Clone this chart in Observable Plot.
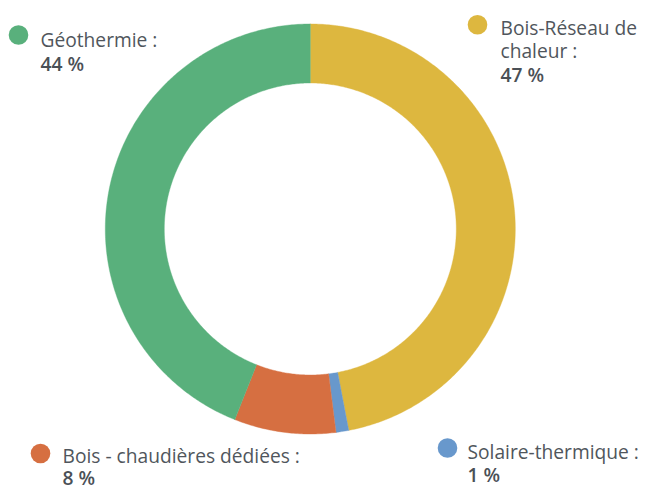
<!DOCTYPE html>
<html>
<head>
<meta charset="utf-8">
<script src="https://cdn.jsdelivr.net/npm/d3@7"></script>
<script src="https://cdn.jsdelivr.net/npm/@observablehq/plot@0.6"></script>
<style>
  html, body { margin: 0; padding: 0; background: #fff; }
  #chart svg { display: block; }
</style>
</head>
<body>
<div id="chart"></div>
<script>
// Data (clockwise from 12 o'clock)
const categories = ["Bois-Réseau de chaleur", "Solaire-thermique", "Bois - chaudières dédiées", "Géothermie"];
const shares = [47, 1, 8, 44];
const valueLabels = ["47 %", "1 %", "8 %", "44 %"];
const colors = ["#ddb73f", "#6898cc", "#d66f41", "#59b07c"];

// Layout (pixels) for the legend labels, not data
const W = 647, H = 486;
const cx = 309.8, cy = 228.5, R = 205, rInner = 146;
const labelLayout = {
  "Géothermie":               {dot: [18, 34.5],  tx: 40,  base: 46.5, lines: ["Géothermie :"]},
  "Bois-Réseau de chaleur":   {dot: [477, 24.3], tx: 500, base: 34,   lines: ["Bois-Réseau de", "chaleur :"]},
  "Bois - chaudières dédiées":{dot: [40, 453],   tx: 62,  base: 462.5, lines: ["Bois - chaudières dédiées :"]},
  "Solaire-thermique":        {dot: [447, 447.5],tx: 467, base: 458,  lines: ["Solaire-thermique :"]}
};
const lineH = 23.8;
const fontSize = 19.2;

// Build the ring polygons from the values
const total = d3.sum(shares);
const k = rInner / R;
let acc = 0;
const ringPts = [];
categories.forEach((c, i) => {
  const a0 = acc / total * 2 * Math.PI;
  acc += shares[i];
  const a1 = acc / total * 2 * Math.PI;
  const n = Math.max(4, Math.ceil((a1 - a0) / 0.01));
  const pts = [];
  for (let j = 0; j <= n; j++) {
    const a = a0 + (a1 - a0) * j / n;
    pts.push({c, x: Math.sin(a), y: Math.cos(a)});
  }
  for (let j = n; j >= 0; j--) {
    const a = a0 + (a1 - a0) * j / n;
    pts.push({c, x: k * Math.sin(a), y: k * Math.cos(a)});
  }
  pts.push(pts[0]);
  ringPts.push(...pts);
});

const labelRows = categories.map((c, i) => ({c, value: valueLabels[i], ...labelLayout[c]}));
const textRows = labelRows.flatMap(d => d.lines.map((t, j) => ({t, x: d.tx, y: d.base + j * lineH})));
const valueRows = labelRows.map(d => ({t: d.value, x: d.tx, y: Math.min(H - 1.5, d.base + d.lines.length * lineH)}));

const plot = Plot.plot({
  width: W,
  height: H,
  margin: 0,
  style: {fontFamily: "'Open Sans', sans-serif", background: "#fff"},
  x: {domain: [-1, 1], range: [cx - R, cx + R], axis: null},
  y: {domain: [-1, 1], range: [cy + R, cy - R], axis: null},
  color: {domain: categories, range: colors},
  marks: [
    Plot.line(ringPts, {x: "x", y: "y", z: "c", fill: "c", stroke: "c", strokeWidth: 0.4, curve: "linear"}),
    Plot.dot(labelRows, {
      x: {value: d => d.dot[0], scale: null},
      y: {value: d => d.dot[1], scale: null},
      r: 9.8, fill: d => d.c, stroke: null
    }),
    Plot.text(textRows, {
      x: {value: d => d.x, scale: null},
      y: {value: d => d.y, scale: null},
      text: "t", textAnchor: "start", lineAnchor: "bottom",
      fontSize, fill: "#50565c"
    }),
    Plot.text(valueRows, {
      x: {value: d => d.x, scale: null},
      y: {value: d => d.y, scale: null},
      text: "t", textAnchor: "start", lineAnchor: "bottom",
      fontSize, fontWeight: 600, fill: "#4a5056"
    })
  ]
});
document.getElementById("chart").appendChild(plot);
</script>
</body>
</html>
